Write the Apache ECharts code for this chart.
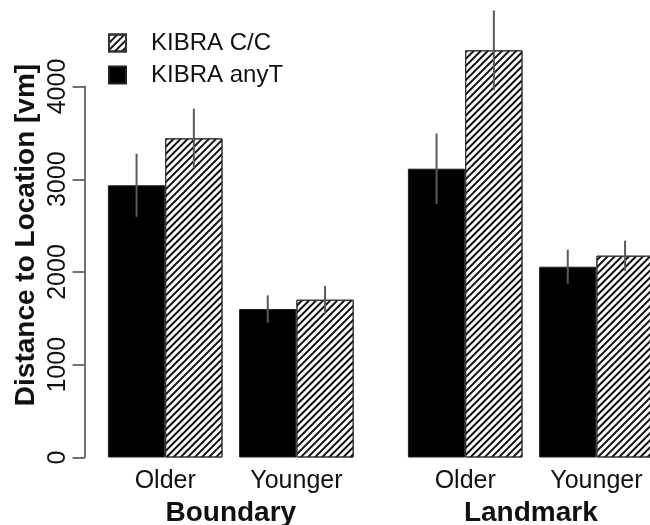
<!DOCTYPE html>
<html>
<head>
<meta charset="utf-8">
<script src="https://cdn.jsdelivr.net/npm/echarts@6/dist/echarts.min.js"></script>
<style>html,body{margin:0;padding:0;background:#fff;}#chart{width:650px;height:525px;}</style>
</head>
<body>
<div id="chart"></div>
<script>
// ---- data ----
var categories = ['Older', 'Younger'];
var groups = ['Boundary', 'Landmark'];
var seriesNames = ['KIBRA anyT', 'KIBRA C/C'];
// Boundary
var boundaryAnyT = [2935, 1601];
var boundaryAnyTSE = [340, 147];
var boundaryCC = [3441, 1701];
var boundaryCCSE = [320, 150];
// Landmark
var landmarkAnyT = [3114, 2057];
var landmarkAnyTSE = [379, 183];
var landmarkCC = [4390, 2176];
var landmarkCCSE = [430, 162];
var yTicks = [0, 1000, 2000, 3000, 4000];
var yTitle = 'Distance to Location [vm]';

// ---- style ----
var FONT = '"Liberation Sans", Arial, Helvetica, sans-serif';
var BAR_W = 57.3;
var GRID_W = 262.4;
var TXT = '#111';

var hatch = {
  symbol: 'rect', symbolSize: 1,
  dashArrayX: [1, 0], dashArrayY: [1.4, 2.9],
  rotation: -Math.PI / 4, color: '#111'
};

function barSeries(gi, name, vals, hatched) {
  return {
    type: 'bar', name: name, xAxisIndex: gi, yAxisIndex: gi,
    data: vals, barWidth: BAR_W, barGap: '0%', clip: false,
    itemStyle: hatched
      ? { color: '#fff', borderColor: '#333', borderWidth: 1, decal: hatch }
      : { color: '#000', borderColor: '#222', borderWidth: 1 },
    emphasis: { disabled: true }, silent: true
  };
}

function errSeries(gi, means, ses, sign) {
  return {
    type: 'custom', xAxisIndex: gi, yAxisIndex: gi, clip: false, silent: true, z: 10,
    data: means.map(function (m, i) { return [i, m, ses[i]]; }),
    encode: { x: 0, y: 1 },
    renderItem: function (params, api) {
      var c = api.value(0), m = api.value(1), s = api.value(2);
      var hi = api.coord([c, m + s]);
      var lo = api.coord([c, m - s]);
      var x = hi[0] + sign * BAR_W / 2;
      return { type: 'line', shape: { x1: x, y1: hi[1], x2: x, y2: lo[1] },
               style: { stroke: '#5a5a5a', lineWidth: 2 } };
    }
  };
}

function xAxis(gi) {
  return {
    type: 'category', gridIndex: gi, data: categories,
    name: groups[gi], nameLocation: 'middle', nameGap: 42,
    nameTextStyle: { fontFamily: FONT, fontWeight: 'bold', fontSize: 28, color: TXT },
    axisLine: { show: false }, axisTick: { show: false },
    axisLabel: { fontFamily: FONT, fontSize: 25, color: TXT, margin: 11 }
  };
}

function yAxis(gi) {
  var show = gi === 0;
  return {
    type: 'value', gridIndex: gi, min: 0, max: 4000, interval: 1000,
    offset: 15, splitLine: { show: false },
    axisLine: { show: show, lineStyle: { color: '#444', width: 1.5 } },
    axisTick: { show: show, length: 12, lineStyle: { color: '#444', width: 1.5 } },
    axisLabel: { show: show, rotate: 90, margin: 14, fontFamily: FONT, fontSize: 25, color: TXT,
                 formatter: function (v) { return yTicks.indexOf(v) >= 0 ? String(v) : ''; } }
  };
}

var chart = echarts.init(document.getElementById('chart'), null, { renderer: 'canvas' });
chart.setOption({
  animation: false,
  backgroundColor: '#fff',
  textStyle: { fontFamily: FONT },
  grid: [
    { left: 99.6, top: 86.5, width: GRID_W, height: 371, outerBoundsMode: 'none', containLabel: false },
    { left: 399.6, top: 86.5, width: GRID_W, height: 371, outerBoundsMode: 'none', containLabel: false }
  ],
  xAxis: [xAxis(0), xAxis(1)],
  yAxis: [yAxis(0), yAxis(1)],
  legend: {
    data: ['KIBRA C/C', 'KIBRA anyT'],
    orient: 'vertical', left: 103, top: 26,
    itemWidth: 17, itemHeight: 17, itemGap: 8,
    icon: 'rect',
    textStyle: { fontFamily: FONT, fontSize: 24, color: TXT, padding: [0, 0, 0, 20] },
    selectedMode: false
  },
  graphic: [{
    type: 'text', x: 26, y: 235, rotation: Math.PI / 2,
    style: { text: yTitle, font: 'bold 28px ' + FONT, fill: TXT,
             textAlign: 'center', textVerticalAlign: 'middle' }
  }],
  series: [
    barSeries(0, seriesNames[0], boundaryAnyT, false),
    barSeries(0, seriesNames[1], boundaryCC, true),
    barSeries(1, seriesNames[0], landmarkAnyT, false),
    barSeries(1, seriesNames[1], landmarkCC, true),
    errSeries(0, boundaryAnyT, boundaryAnyTSE, -1),
    errSeries(0, boundaryCC, boundaryCCSE, 1),
    errSeries(1, landmarkAnyT, landmarkAnyTSE, -1),
    errSeries(1, landmarkCC, landmarkCCSE, 1)
  ]
});
</script>
</body>
</html>
